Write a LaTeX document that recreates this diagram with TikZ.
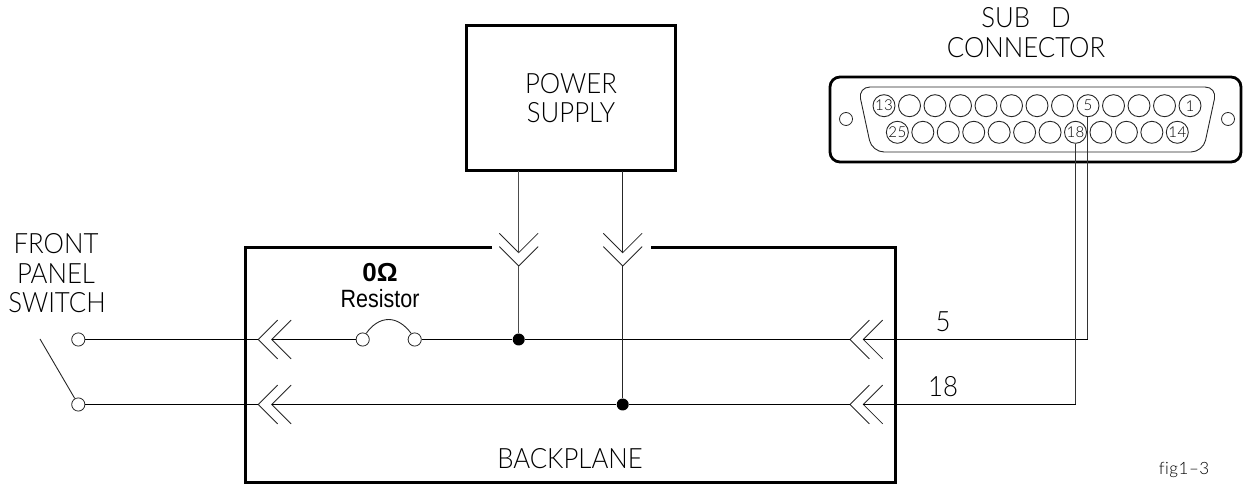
\documentclass[tikz,border=0pt]{standalone}
\usepackage{fontspec}
\setmainfont{Liberation Sans}
\newfontfamily\cadfont[UprightFont={* Light}]{Lato}
\newfontfamily\cadsmall[UprightFont={* Light},LetterSpace=3,Ligatures=NoCommon]{Lato}
\begin{document}
\begin{tikzpicture}[x=0.5pt,y=-0.5pt,
  wire/.style={line width=0.55pt,black},
  thick box/.style={line width=1.5pt,black},
  chevron/.style={line width=0.4pt,black!85},
  thin part/.style={line width=0.45pt,black!85},
  term/.style={circle,draw=black!85,line width=0.4pt,fill=white,inner sep=0pt,minimum size=6.6pt},
  pin/.style={circle,draw=black!85,line width=0.45pt,inner sep=0pt,minimum size=11pt,font=\cadsmall\fontsize{7.5}{8}\selectfont},
  hole/.style={circle,draw=black!85,line width=0.4pt,inner sep=0pt,minimum size=6.5pt},
  junction/.style={circle,fill=black,inner sep=0pt,minimum size=6pt},
  cad/.style={font=\cadfont\fontsize{14}{16}\selectfont,black,inner sep=0pt,align=center,xscale=0.92},
  anchorpt/.style={inner sep=0pt,minimum size=0pt}]
\useasboundingbox (0,0) rectangle (1246,485);
% power supply
\node[draw,thick box,minimum width=104.5pt,minimum height=72.5pt,anchor=south west,inner sep=0pt,outer sep=0pt] (ps) at (466,171) {};
\node[cad] (pst1) at (571,84) {POWER};
\node[cad] (pst2) at (571,113) {SUPPLY};
% backplane
\coordinate (bpa) at (492,248);
\coordinate (bptl) at (245,248);
\coordinate (bpbl) at (245,482);
\coordinate (bpbr) at (895.5,482);
\coordinate (bptr) at (895.5,248);
\coordinate (bpb) at (651,248);
\draw[thick box,line join=miter] (bpa) -- (bptl) -- (bpbl) -- (bpbr) -- (bptr) -- (bpb);
\node[cad] (bpt) at (570,459) {BACKPLANE};
% sub D
\draw[line width=1.4pt,rounded corners=5pt] (830,77) rectangle (1241,162);
\draw[thin part,rounded corners=6pt] (858,87) -- (1217,87) -- (1203,152) -- (872,152) -- cycle;
\node[hole] (h1) at (846,119) {};
\node[hole] (h2) at (1228,119) {};
\foreach \n/\t in {1/1,2/,3/,4/,5/5,6/,7/,8/,9/,10/,11/,12/,13/13}{
  \node[pin] (p\n) at ({1190-(\n-1)*25.5},105.7) {\t};
}
\foreach \n/\t in {14/14,15/,16/,17/,18/18,19/,20/,21/,22/,23/,24/,25/25}{
  \node[pin] (p\n) at ({1177.3-(\n-14)*25.45},132.3) {\t};
}
\node[cad] (sd1) at (1026,18) {SUB\ \ \ D};
\node[cad] (sd2) at (1026,48) {CONNECTOR};
% left labels
\node[cad] (f1) at (56,244) {FRONT};
\node[cad] (f2) at (56,274) {PANEL};
\node[cad] (f3) at (57,303) {SWITCH};
% terminals and switch
\node[term] (t1) at (78.3,339.5) {};
\node[term] (t2) at (78.3,404.5) {};
\coordinate (swend) at (40,339);
\draw[thin part] (swend) -- (t2);
% chevrons + junction coordinates
\coordinate (la1) at (258.3,339.5); \coordinate (la2) at (271.7,339.5);
\coordinate (lb1) at (258.3,404.5); \coordinate (lb2) at (271.7,404.5);
\coordinate (ra1) at (850,339.5);   \coordinate (ra2) at (863.3,339.5);
\coordinate (rb1) at (850,404.5);   \coordinate (rb2) at (863.3,404.5);
\coordinate (ua1) at (518.7,252.7); \coordinate (ua2) at (518.7,266);
\coordinate (ub1) at (622.7,252.7); \coordinate (ub2) at (622.7,266);
\foreach \c in {la1,la2,lb1,lb2,ra1,ra2,rb1,rb2}{
  \draw[chevron] ([shift={(19.4,-19.4)}]\c) -- (\c) -- ([shift={(19.4,19.4)}]\c);
}
\foreach \c in {ua1,ua2,ub1,ub2}{
  \draw[chevron] ([shift={(-19.4,-19.4)}]\c) -- (\c) -- ([shift={(19.4,-19.4)}]\c);
}
% resistor
\node[term] (r1) at (362.7,339.5) {};
\node[term] (r2) at (414.7,339.5) {};
\draw[thin part] (r1.60) .. controls (372,325) and (380,319.5) .. (388.7,319.5) .. controls (397,319.5) and (405,325) .. (r2.120);
\node[font=\bfseries\fontsize{13}{15}\selectfont,inner sep=0pt] (r0) at (380,273) {0Ω};
\node[font=\fontsize{12.5}{14}\selectfont,inner sep=0pt,xscale=0.86] (rr) at (380,299) {Resistor};
% junctions
\node[junction] (j1) at (518.7,339.5) {};
\node[junction] (j2) at (622.7,404.5) {};
% wires
\draw[wire] (t1) -- (la1);
\draw[wire] (la2) -- (r1);
\draw[wire] (r2) -- (j1);
\draw[wire] (j1) -- (ra1);
\coordinate (c5) at (1087.5,339.5);
\coordinate (c18) at (1075.5,404.5);
\draw[wire] (ra2) -- (c5);
\draw[wire] (t2) -- (lb1);
\draw[wire] (lb2) -- (j2);
\draw[wire] (j2) -- (rb1);
\draw[wire] (rb2) -- (c18);
\draw[thin part,black!80] (p5.south -| c5) -- (c5);
\draw[thin part,black!80] (p18.south -| c18) -- (c18);
\coordinate (psa) at (518.7,171);
\coordinate (psb) at (622.7,171);
\draw[thin part,black!70,line width=0.6pt] (psa) -- (ua1);
\draw[thin part,black!70,line width=0.6pt] (ua2) -- (j1);
\draw[thin part] (psb) -- (ub1);
\draw[thin part] (ub2) -- (j2);
% labels
\node[cad] (l5) at (943,322) {5};
\node[cad] (l18) at (943,387) {18};
\node[font=\cadsmall\fontsize{8.5}{9}\selectfont,black,inner sep=0pt] (fig) at (1184,470) {fig1–3};
\end{tikzpicture}
\end{document}
